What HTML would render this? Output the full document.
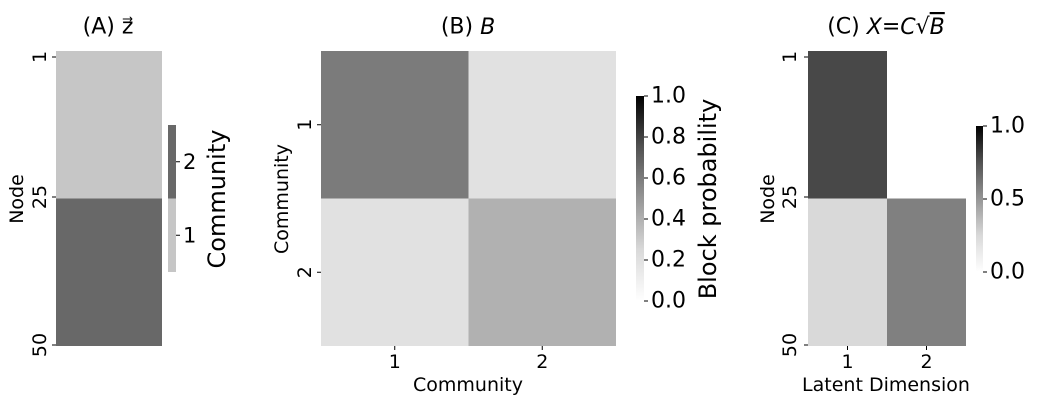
<!DOCTYPE html>
<html><head><meta charset="utf-8"><style>
body{margin:0;background:#fff;}
svg text{font-family:"DejaVu Sans","Liberation Sans",sans-serif;fill:#000;}
</style></head><body>
<svg id="c" width="1037" height="403" xmlns="http://www.w3.org/2000/svg">
<defs><linearGradient id="gr" x1="0" y1="1" x2="0" y2="0">
<stop offset="0" stop-color="#fff"/><stop offset="0.25" stop-color="#d9d9d9"/><stop offset="0.5" stop-color="#969696"/><stop offset="0.75" stop-color="#525252"/><stop offset="1" stop-color="#000"/></linearGradient></defs>
</svg>
<script>
const zCommunities=[1,2];
const zCounts=[25,25];
const bValues=[[0.6,0.2],[0.2,0.4]];
const xValues=[[0.78,0],[0.25,0.58]];
const nodeTicks=["1","25","50"];
const bTicks=["0.0","0.2","0.4","0.6","0.8","1.0"];
const cTicks=["0.0","0.5","1.0"];
const svg=document.getElementById('c');
const NS='http://www.w3.org/2000/svg';
function mk(t,a,p){const e=document.createElementNS(NS,t);for(const k in a)e.setAttribute(k,a[k]);(p||svg).appendChild(e);return e;}
function grey(v){const s=[[0,255],[0.25,217],[0.5,150],[0.75,82],[1,0]];v=Math.max(0,Math.min(1,v));for(let i=1;i<s.length;i++){if(v<=s[i][0]){const t=(v-s[i-1][0])/(s[i][0]-s[i-1][0]);const g=Math.round(s[i-1][1]+t*(s[i][1]-s[i-1][1]));return `rgb(${g},${g},${g})`;}}return '#000';}
function txt(x,y,s,size,opt){opt=opt||{};const e=mk('text',{x:x,y:y,'font-size':size,'text-anchor':opt.anchor||'middle','dominant-baseline':'central'});if(opt.rot)e.setAttribute('transform',`rotate(-90 ${x} ${y})`);e.textContent=s;return e;}
const TOP=51,BOT=346;
function nodeAxis(x0,nx,ny){nodeTicks.forEach(t=>{const y=t==="1"?57:(t==="25"?197:345);mk('line',{x1:x0-4,x2:x0,y1:y,y2:y,stroke:'#000'});
const e=txt(nx,y,t,19,{rot:true});});
const l=txt(ny,199,'Node',19,{rot:true});}
// Panel A
const aCol={1:'#c6c6c6',2:'#686868'};
let cum=0;
zCommunities.forEach((c,i)=>{const y0=TOP+cum/50*(BOT-TOP);cum+=zCounts[i];const y1=TOP+cum/50*(BOT-TOP);
const r=mk('rect',{x:56,y:y0,width:106,height:y1-y0,fill:aCol[c]});

});
nodeAxis(56,40,17);
zCommunities.forEach((c,i)=>{const h=147/zCommunities.length;const y0=272-(i+1)*h;
const r=mk('rect',{x:168,y:y0,width:8,height:h,fill:aCol[c]});


mk('line',{x1:176,x2:180,y1:y0+h/2,y2:y0+h/2,stroke:'#000'});
txt(183,y0+h/2,String(c),21,{anchor:'start'});});
let t=txt(217,199,'Community',24,{rot:true});
t=txt(108,27,'(A) z⃗',22);
// Panel B
const bx=321,bw=295;
bValues.forEach((row,i)=>row.forEach((v,j)=>{const r=mk('rect',{x:bx+j*bw/2,y:TOP+i*(BOT-TOP)/2,width:bw/2,height:(BOT-TOP)/2,fill:grey(v)});

}));
[0,1].forEach(i=>{const y=TOP+(i+0.5)*(BOT-TOP)/2;mk('line',{x1:bx-4,x2:bx,y1:y,y2:y,stroke:'#000'});txt(305,y,String(i+1),19,{rot:true});
const x=bx+(i+0.5)*bw/2;mk('line',{x1:x,x2:x,y1:BOT,y2:BOT+4,stroke:'#000'});txt(x,362,String(i+1),19);});
t=txt(282,199,'Community',19,{rot:true});
t=txt(468,385,'Community',19);
let cb=mk('rect',{x:636,y:96,width:8,height:205,fill:'url(#gr)'});
bTicks.forEach(s=>{const y=301-parseFloat(s)*205;mk('line',{x1:644,x2:648,y1:y,y2:y,stroke:'#000'});txt(651,y,s,22,{anchor:'start'});});
t=txt(708,199,'Block probability',24,{rot:true});
t=txt(468,27,'(B) ',22);
t.innerHTML='(B) <tspan font-style="italic">B</tspan>';
// Panel C
const cx=808,cw=158;
xValues.forEach((row,i)=>row.forEach((v,j)=>{if(v<=0)return;const r=mk('rect',{x:cx+j*cw/2,y:TOP+i*(BOT-TOP)/2,width:cw/2,height:(BOT-TOP)/2,fill:grey(v)});

}));
nodeAxis(cx,790,768);
[0,1].forEach(j=>{const x=cx+(j+0.5)*cw/2;mk('line',{x1:x,x2:x,y1:BOT,y2:BOT+4,stroke:'#000'});txt(x,362,String(j+1),19);});
t=txt(886,385,'Latent Dimension',19);
cb=mk('rect',{x:976,y:126,width:7,height:146,fill:'url(#gr)'});
cTicks.forEach(s=>{const y=272-parseFloat(s)*146;mk('line',{x1:983,x2:987,y1:y,y2:y,stroke:'#000'});txt(990,y,s,22,{anchor:'start'});});
t=txt(886,27,'',22);
t.innerHTML='(C) <tspan font-style="italic">X</tspan>=<tspan font-style="italic">C</tspan>√<tspan font-style="italic" text-decoration="overline">B</tspan>';
</script>
</body></html>
